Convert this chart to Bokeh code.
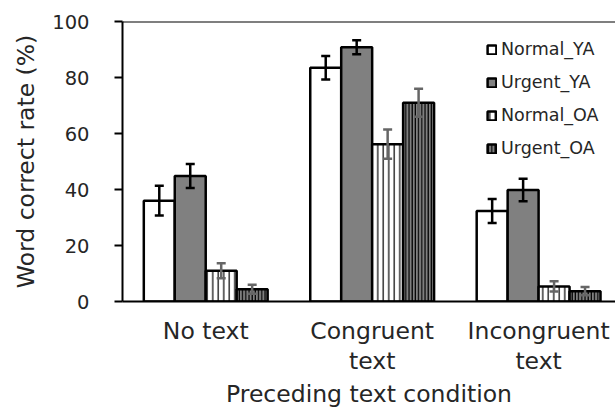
from bokeh.plotting import figure
from bokeh.models import (ColumnDataSource, Range1d, FixedTicker, Legend, LegendItem,
                          Whisker, TeeHead, Span)
from bokeh.embed import file_html
from bokeh.resources import INLINE

categories = ["No text", "Congruent\ntext", "Incongruent\ntext"]
series = ["Normal_YA", "Urgent_YA", "Normal_OA", "Urgent_OA"]
normal_ya = [36.0, 83.5, 32.3]
urgent_ya = [44.8, 90.8, 39.8]
normal_oa = [11.0, 56.2, 5.4]
urgent_oa = [4.4, 71.0, 3.7]
err_normal_ya = [5.3, 4.2, 4.3]
err_urgent_ya = [4.3, 2.5, 4.0]
err_normal_oa = [2.7, 5.2, 1.8]
err_urgent_oa = [1.6, 5.0, 1.5]
y_ticks = [0, 20, 40, 60, 80, 100]

values = [normal_ya, urgent_ya, normal_oa, urgent_oa]
errors = [err_normal_ya, err_urgent_ya, err_normal_oa, err_urgent_oa]

FONT = "DejaVu Sans"
TXT = "#262626"
GRAY = "#808080"

p = figure(width=615, height=412, output_backend="svg", toolbar_location=None,
           x_range=Range1d(-0.5, 2.462), y_range=Range1d(0, 100),
           min_border_left=122, min_border_top=21, min_border_bottom=111, min_border_right=0)
p.outline_line_color = None
p.xgrid.visible = False
p.ygrid.visible = False
p.background_fill_color = "white"

bw = 0.186
offsets = [-1.5, -0.5, 0.5, 1.5]
styles = [
    dict(fill_color="white", hatch_pattern=None, err_color="black"),
    dict(fill_color=GRAY, hatch_pattern=None, err_color="black"),
    dict(fill_color="white", hatch_pattern="vertical_line", hatch_scale=5.5, err_color="#666666"),
    dict(fill_color=GRAY, hatch_pattern="vertical_line", hatch_scale=3.2, err_color="#666666"),
]

items = []
for name, vals, errs, off, st in zip(series, values, errors, offsets, styles):
    xs = [i + off * bw for i in range(len(categories))]
    src = ColumnDataSource(dict(x=xs, top=vals,
                                upper=[v + e for v, e in zip(vals, errs)],
                                lower=[v - e for v, e in zip(vals, errs)]))
    kw = dict(x="x", top="top", bottom=0, width=bw, source=src,
              fill_color=st["fill_color"], line_color="black", line_width=2.5)
    if st["hatch_pattern"]:
        kw.update(hatch_pattern=st["hatch_pattern"], hatch_scale=st["hatch_scale"],
                  hatch_color="black", hatch_weight=1.2)
    r = p.vbar(**kw)
    items.append(LegendItem(label=name, renderers=[r]))
    w = Whisker(base="x", upper="upper", lower="lower", source=src, level="annotation",
                line_color=st["err_color"], line_width=2.5,
                upper_head=TeeHead(size=9, line_color=st["err_color"], line_width=2.5),
                lower_head=TeeHead(size=9, line_color=st["err_color"], line_width=2.5))
    p.add_layout(w)

p.add_layout(Span(location=100, dimension="width", line_color="black", line_width=2))

legend = Legend(items=items, location=(364, 143), background_fill_alpha=0,
                border_line_color=None, padding=0, margin=0, spacing=13,
                glyph_width=11, glyph_height=11, label_height=20,
                label_text_font=FONT, label_text_font_size="17.5px", label_text_color=TXT,
                label_standoff=4)
p.add_layout(legend)

p.yaxis.ticker = FixedTicker(ticks=y_ticks)
p.yaxis.axis_label = "Word correct rate (%)"
p.yaxis.axis_label_text_font = FONT
p.yaxis.axis_label_text_font_size = "23.5px"
p.yaxis.axis_label_text_font_style = "normal"
p.yaxis.axis_label_text_color = TXT
p.yaxis.axis_label_standoff = 9
p.yaxis.major_label_text_font = FONT
p.yaxis.major_label_text_font_size = "19.5px"
p.yaxis.major_label_text_color = TXT
p.yaxis.major_tick_out = 8
p.yaxis.major_tick_in = 0
p.yaxis.minor_tick_out = 0
p.yaxis.minor_tick_in = 0
p.yaxis.axis_line_width = 2
p.yaxis.major_tick_line_width = 2
p.yaxis.major_label_standoff = 25

p.xaxis.ticker = FixedTicker(ticks=list(range(len(categories))))
p.xaxis.major_label_overrides = {i: c for i, c in enumerate(categories)}
p.xaxis.axis_label = "Preceding text condition"
p.xaxis.axis_label_text_font = FONT
p.xaxis.axis_label_text_font_size = "23.5px"
p.xaxis.axis_label_text_font_style = "normal"
p.xaxis.axis_label_text_color = TXT
p.xaxis.axis_label_standoff = 2
p.xaxis.major_label_text_font = FONT
p.xaxis.major_label_text_font_size = "23.5px"
p.xaxis.major_label_text_line_height = 1.1
p.xaxis.major_label_text_color = TXT
p.xaxis.major_tick_out = 0
p.xaxis.major_tick_in = 0
p.xaxis.minor_tick_out = 0
p.xaxis.minor_tick_in = 0
p.xaxis.axis_line_width = 2
p.xaxis.major_label_standoff = 15

open("out.html", "w").write(file_html(p, INLINE))
